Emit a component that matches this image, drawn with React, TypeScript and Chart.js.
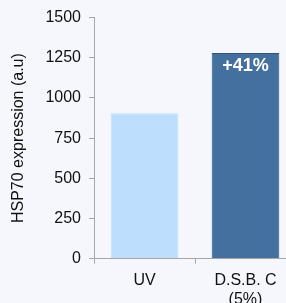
import React, { useEffect, useRef } from "react";
import { Chart, registerables } from "chart.js";

Chart.register(...registerables);

const categories: (string | string[])[] = ["UV", ["D.S.B. C", "(5%)"]];
const values = [905, 1280];
const barColors = ["#bddffd", "#44709f"];
const borderColors = ["#bddffd", "#2f5579"];
const annotations = ["", "+41%"];
const yTicks = [0, 250, 500, 750, 1000, 1250, 1500];
const yTitle = "HSP70 expression (a.u)";

const FONT = "'Liberation Sans', Arial, sans-serif";

const labelPlugin = {
  id: "barLabels",
  afterDatasetsDraw(chart: any) {
    const ctx = chart.ctx;
    const meta = chart.getDatasetMeta(0);
    ctx.save();
    ctx.fillStyle = "#ffffff";
    ctx.font = `bold 18px ${FONT}`;
    ctx.textAlign = "center";
    ctx.textBaseline = "middle";
    meta.data.forEach((bar: any, i: number) => {
      const t = annotations[i];
      if (!t) return;
      ctx.fillText(t, bar.x, bar.y + 13);
    });
    ctx.restore();
  },
};

export default function App() {
  const ref = useRef<HTMLCanvasElement | null>(null);
  useEffect(() => {
    if (!ref.current) return;
    const chart = new Chart(ref.current, {
      type: "bar",
      data: {
        labels: categories as any,
        datasets: [
          {
            data: values,
            backgroundColor: barColors,
            borderColor: borderColors,
            borderWidth: 1,
            categoryPercentage: 1,
            barPercentage: 0.67,
          },
        ],
      },
      options: {
        animation: false,
        responsive: true,
        maintainAspectRatio: false,
        layout: { padding: { top: 8, left: 0, right: 0, bottom: 0 } },
        plugins: {
          legend: { display: false },
          tooltip: { enabled: false },
        },
        scales: {
          x: {
            offset: true,
            grid: {
              offset: true,
              drawOnChartArea: false,
              tickLength: 5,
              color: "#a6a6a6",
            },
            border: { color: "#a6a6a6", width: 1 },
            ticks: {
              color: "#111111",
              font: { size: 16, family: FONT },
              padding: 7,
              maxRotation: 0,
              autoSkip: false,
            },
          },
          y: {
            min: 0,
            max: 1500,
            afterBuildTicks: (scale: any) => {
              scale.ticks = yTicks.map((v) => ({ value: v }));
            },
            afterFit: (scale: any) => {
              scale.width = 94;
            },
            grid: {
              drawOnChartArea: false,
              tickLength: 5,
              color: "#a6a6a6",
            },
            border: { color: "#a6a6a6", width: 1 },
            ticks: {
              color: "#111111",
              font: { size: 16, family: FONT },
              padding: 8,
              callback: (v: any) => String(v),
            },
            title: {
              display: true,
              text: yTitle,
              color: "#111111",
              font: { size: 16, family: FONT },
              padding: { top: 9, bottom: 0 },
            },
          },
        },
      },
      plugins: [labelPlugin],
    });
    return () => chart.destroy();
  }, []);

  return (
    <div
      style={{
        position: "fixed",
        left: 0,
        top: 0,
        width: 296,
        height: 316,
        background: "#f5f7fc",
      }}
    >
      <canvas ref={ref} />
    </div>
  );
}
